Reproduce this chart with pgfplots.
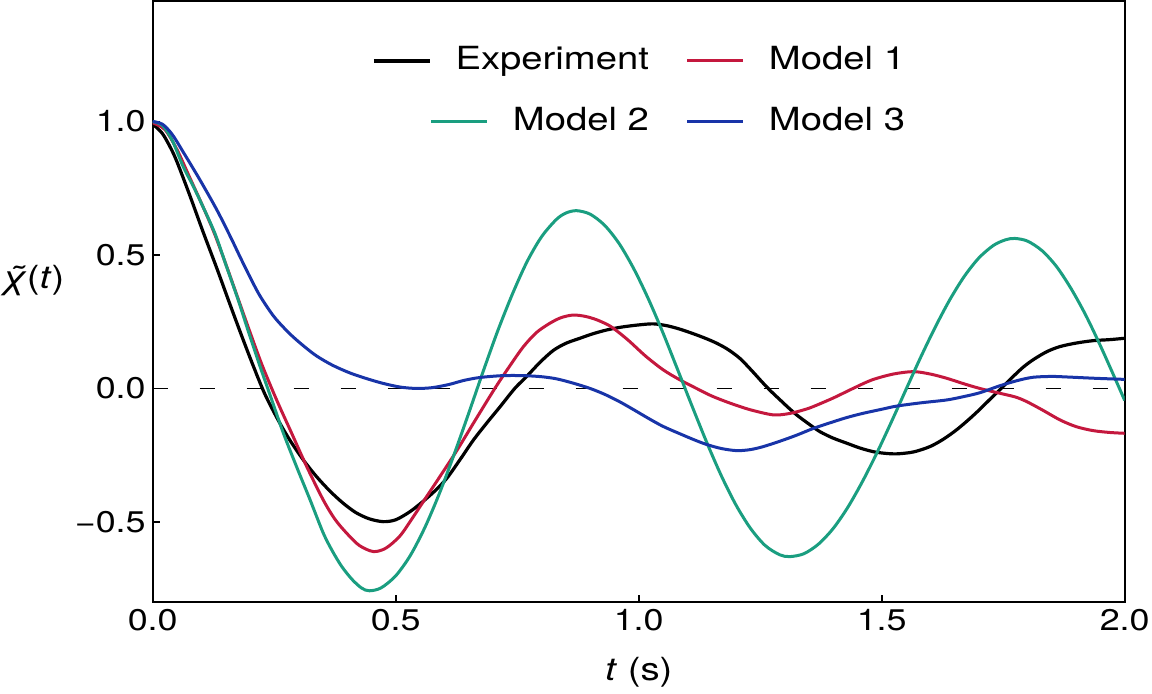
\documentclass[border=0pt]{standalone}
\usepackage{fontspec}
\setmainfont{TeX Gyre Heros}[FakeStretch=1.2]
\usepackage{pgfplots}
\pgfplotsset{compat=1.18}
\definecolor{cm1}{RGB}{196,24,62}
\definecolor{cm2}{RGB}{26,158,128}
\definecolor{cm3}{RGB}{24,52,168}
\newcommand\legfont{\fontsize{16}{19}\selectfont}
\newcommand\labfont{\fontsize{16}{19}\selectfont}
\newlength\legshift
\newlength\tmplen
\pgfplotsset{shifted legend/.style={legend image code/.code={\path[draw=none] (0bp,0bp) -- (28bp,0bp); \draw[##1,overlay] (\legshift,0bp) -- ++(28bp,0bp);}}}
\begin{document}
\settowidth{\legshift}{\legfont Experiment}%
\settowidth{\tmplen}{\legfont Model 2}%
\addtolength{\legshift}{-\tmplen}%
\begin{tikzpicture}
\useasboundingbox (-76.35bp,-46bp) rectangle (499.65bp,301bp);
\begin{axis}[
  at={(0,0)}, anchor=south west,
  scale only axis, width=486bp, height=300.3bp,
  xmin=0, xmax=2, ymin=-0.8, ymax=1.45,
  xtick={0,0.5,1,1.5,2}, xticklabels={0.0,0.5,1.0,1.5,2.0},
  ytick={-0.5,0,0.5,1}, yticklabels={−0.5,0.0,0.5,1.0},
  minor tick num=0,
  tick align=inside, xtick pos=bottom, ytick pos=left,
  major tick length=3.5bp,
  tick style={black, line width=0.8bp},
  axis line style={line width=1bp},
  tick label style={font=\fontsize{15}{18}\selectfont},
  xlabel={\textit{t} (s)},
  ylabel={\textit{χ̃}(\textit{t})},
  every axis x label/.style={at={(axis description cs:0.5,-0.1165)}, anchor=center, font=\labfont},
  every axis y label/.style={at={(axis description cs:-0.123,0.536)}, anchor=center, font=\labfont},
  legend columns=2,
  legend cell align=right,
  legend style={at={(axis description cs:0.5,0.85)}, anchor=center, draw=none, fill=none,
    font=\legfont, inner sep=0pt, column sep=12bp, row sep=15bp,
    nodes={inner sep=0pt, text height=12bp, text depth=3.5bp},
    /tikz/every even column/.append style={column sep=18.5bp}},
  legend image code/.code={\draw[#1] (0bp,0bp) -- (28bp,0bp);},
  every axis plot/.append style={line width=1.5bp},
]
\addplot[black, line width=0.9bp, dash pattern=on 7.5bp off 16bp, forget plot] coordinates {(0,0) (2,0)};

% Experiment
\addplot[black, smooth, line width=1.6bp] coordinates {
(0.000,0.990) (0.020,0.955) (0.040,0.890) (0.053,0.835) (0.077,0.720) (0.104,0.585)
(0.132,0.450) (0.156,0.330) (0.180,0.212) (0.204,0.098) (0.230,-0.018) (0.258,-0.118)
(0.282,-0.193) (0.310,-0.268) (0.337,-0.330) (0.365,-0.385) (0.392,-0.430) (0.418,-0.465)
(0.445,-0.488) (0.474,-0.499) (0.500,-0.492) (0.529,-0.462) (0.555,-0.425) (0.580,-0.385)
(0.605,-0.337) (0.633,-0.265) (0.660,-0.193) (0.688,-0.128) (0.715,-0.068) (0.745,0.000)
(0.770,0.046) (0.797,0.098) (0.824,0.142) (0.850,0.169) (0.879,0.188) (0.906,0.205)
(0.934,0.219) (0.965,0.230) (1.000,0.238) (1.030,0.242) (1.058,0.235) (1.085,0.222)
(1.120,0.200) (1.154,0.175) (1.182,0.148) (1.208,0.113) (1.232,0.068) (1.256,0.020)
(1.273,-0.012) (1.291,-0.043) (1.308,-0.072) (1.325,-0.099) (1.350,-0.133) (1.373,-0.162)
(1.400,-0.186) (1.428,-0.205) (1.455,-0.223) (1.483,-0.237) (1.507,-0.243) (1.531,-0.245)
(1.565,-0.238) (1.599,-0.218) (1.627,-0.190) (1.654,-0.155) (1.680,-0.115) (1.702,-0.078)
(1.722,-0.042) (1.743,-0.005) (1.765,0.035) (1.790,0.078) (1.812,0.108) (1.840,0.138)
(1.867,0.157) (1.900,0.170) (1.935,0.179) (1.970,0.183) (2.000,0.188)};
\addlegendentry{Experiment}

% Model 1
\addplot[cm1, smooth] coordinates {
(0.000,0.995) (0.025,0.970) (0.050,0.895) (0.075,0.795) (0.100,0.695) (0.125,0.590)
(0.150,0.468) (0.175,0.340) (0.200,0.212) (0.225,0.088) (0.255,-0.043) (0.286,-0.168)
(0.317,-0.293) (0.351,-0.418) (0.375,-0.490) (0.399,-0.542) (0.425,-0.588) (0.454,-0.611)
(0.480,-0.598) (0.509,-0.552) (0.535,-0.484) (0.560,-0.415) (0.591,-0.330) (0.625,-0.235)
(0.660,-0.130) (0.704,0.000) (0.735,0.085) (0.763,0.157) (0.790,0.210) (0.817,0.244)
(0.840,0.265) (0.865,0.275) (0.890,0.270) (0.914,0.257) (0.940,0.235) (0.961,0.207)
(0.982,0.175) (1.015,0.120) (1.051,0.069) (1.085,0.032) (1.119,0.000) (1.150,-0.028)
(1.188,-0.055) (1.230,-0.080) (1.277,-0.099) (1.310,-0.094) (1.340,-0.080) (1.359,-0.068)
(1.400,-0.036) (1.441,0.000) (1.480,0.032) (1.524,0.054) (1.565,0.063) (1.600,0.054)
(1.634,0.038) (1.670,0.017) (1.702,0.000) (1.743,-0.018) (1.775,-0.032) (1.798,-0.049)
(1.830,-0.080) (1.867,-0.118) (1.900,-0.143) (1.935,-0.158) (1.970,-0.165) (2.000,-0.168)};
\addlegendentry{Model 1}

% Model 2
\addplot[cm2, smooth, shifted legend] coordinates {
(0.000,1.000) (0.020,0.985) (0.040,0.930) (0.063,0.830) (0.080,0.770) (0.097,0.706)
(0.128,0.581) (0.152,0.456) (0.176,0.331) (0.198,0.207) (0.221,0.082) (0.245,-0.043)
(0.269,-0.168) (0.296,-0.293) (0.324,-0.418) (0.351,-0.542) (0.370,-0.610) (0.389,-0.667)
(0.410,-0.715) (0.430,-0.748) (0.446,-0.758) (0.470,-0.747) (0.500,-0.702) (0.530,-0.626)
(0.560,-0.521) (0.590,-0.393) (0.620,-0.248) (0.650,-0.094) (0.680,0.064) (0.710,0.216)
(0.740,0.353) (0.770,0.474) (0.800,0.568) (0.830,0.632) (0.850,0.657) (0.872,0.666)
(0.900,0.653) (0.930,0.611) (0.960,0.542) (0.990,0.448) (1.020,0.335) (1.050,0.208)
(1.080,0.071) (1.110,-0.067) (1.140,-0.202) (1.170,-0.327) (1.200,-0.436) (1.230,-0.524)
(1.260,-0.588) (1.290,-0.623) (1.311,-0.630) (1.340,-0.619) (1.370,-0.583) (1.400,-0.525)
(1.430,-0.446) (1.460,-0.350) (1.490,-0.242) (1.520,-0.125) (1.550,-0.004) (1.580,0.116)
(1.610,0.229) (1.640,0.332) (1.670,0.420) (1.700,0.489) (1.730,0.536) (1.755,0.557)
(1.774,0.562) (1.800,0.552) (1.830,0.516) (1.860,0.456) (1.890,0.373) (1.920,0.274)
(1.950,0.160) (1.980,0.038) (2.000,-0.045)};
\addlegendentry{Model 2}

% Model 3
\addplot[cm3, smooth] coordinates {
(0.000,1.000) (0.020,0.990) (0.040,0.952) (0.063,0.885) (0.097,0.782) (0.132,0.669)
(0.160,0.568) (0.180,0.492) (0.200,0.418) (0.221,0.346) (0.250,0.268) (0.282,0.205)
(0.310,0.160) (0.337,0.122) (0.370,0.087) (0.406,0.058) (0.440,0.037) (0.474,0.019)
(0.510,0.005) (0.543,0.000) (0.575,0.003) (0.610,0.015) (0.640,0.030) (0.673,0.041)
(0.720,0.048) (0.763,0.048) (0.800,0.044) (0.831,0.036) (0.865,0.020) (0.900,0.000)
(0.930,-0.022) (0.961,-0.050) (0.990,-0.080) (1.020,-0.112) (1.050,-0.142) (1.085,-0.170)
(1.115,-0.193) (1.140,-0.210) (1.170,-0.225) (1.202,-0.233) (1.230,-0.229) (1.256,-0.218)
(1.290,-0.198) (1.325,-0.175) (1.359,-0.150) (1.400,-0.125) (1.430,-0.108) (1.462,-0.093)
(1.500,-0.078) (1.531,-0.066) (1.580,-0.054) (1.634,-0.043) (1.670,-0.030) (1.702,-0.016)
(1.743,0.010) (1.780,0.030) (1.812,0.042) (1.850,0.045) (1.881,0.043) (1.940,0.038)
(2.000,0.034)};
\addlegendentry{Model 3}
\end{axis}
\end{tikzpicture}
\end{document}
